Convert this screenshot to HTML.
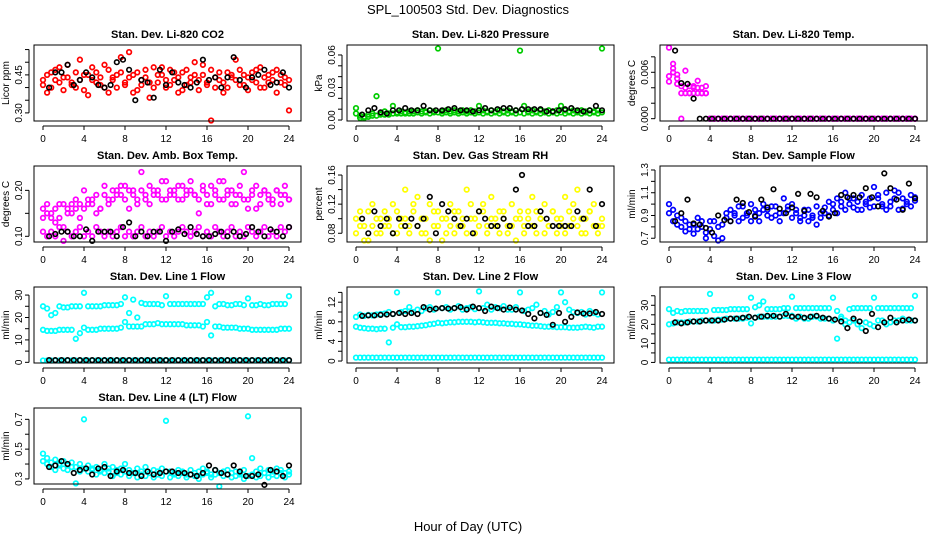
<!DOCTYPE html>
<html><head><meta charset="utf-8">
<style>
html,body{margin:0;padding:0;background:#fff;}
svg{display:block;font-family:"Liberation Sans",Arial,sans-serif;}
</style></head>
<body>
<svg id="chart" width="936" height="540" viewBox="0 0 936 540" xmlns="http://www.w3.org/2000/svg">
<text x="468" y="14" text-anchor="middle" font-size="13">SPL_100503  Std. Dev. Diagnostics</text>
<text x="468" y="531" text-anchor="middle" font-size="13">Hour of Day (UTC)</text>
</svg>
<script>
const tColor=[0,0.4,0.8,1.2,1.6,2.0,2.4,2.8,3.2,3.6,4.0,4.4,4.8,5.2,5.6,6.0,6.4,6.8,7.2,7.6,8.0,8.4,8.8,9.2,9.6,10.0,10.4,10.8,11.2,11.6,12.0,12.4,12.8,13.2,13.6,14.0,14.4,14.8,15.2,15.6,16.0,16.4,16.8,17.2,17.6,18.0,18.4,18.8,19.2,19.6,20.0,20.4,20.8,21.2,21.6,22.0,22.4,22.8,23.2,23.6,24.0];
const tBlack=[0.6,1.2,1.8,2.4,3.0,3.6,4.2,4.8,5.4,6.0,6.6,7.2,7.8,8.4,9.0,9.6,10.2,10.8,11.4,12.0,12.6,13.2,13.8,14.4,15.0,15.6,16.2,16.8,17.4,18.0,18.6,19.2,19.8,20.4,21.0,21.6,22.2,22.8,23.4,24.0];
const xTicks=[0,4,8,12,16,20,24];

const co2A=[0.43,0.45,0.40,0.47,0.42,0.44,0.49,0.41,0.46,0.43,0.39,0.45,0.48,0.42,0.44,0.40,0.47,0.43,0.45,0.52,0.41,0.44,0.38,0.46,0.43,0.47,0.42,0.40,0.45,0.48,0.43,0.41,0.46,0.44,0.39,0.47,0.42,0.45,0.43,0.49,0.41,0.27,0.44,0.46,0.42,0.40,0.45,0.43,0.47,0.41,0.44,0.46,0.42,0.48,0.40,0.45,0.43,0.47,0.42,0.44,0.31];
const co2B=[0.41,0.38,0.46,0.43,0.48,0.39,0.44,0.42,0.40,0.51,0.45,0.37,0.43,0.46,0.41,0.49,0.38,0.44,0.40,0.46,0.42,0.54,0.45,0.39,0.41,0.44,0.36,0.48,0.42,0.45,0.40,0.47,0.43,0.38,0.46,0.41,0.44,0.50,0.39,0.45,0.42,0.47,0.40,0.43,0.38,0.46,0.44,0.51,0.41,0.45,0.39,0.43,0.47,0.40,0.44,0.42,0.46,0.38,0.45,0.41,0.43];
const co2K=[0.40,0.46,0.46,0.49,0.41,0.43,0.46,0.44,0.41,0.40,0.41,0.50,0.51,0.47,0.35,0.43,0.42,0.36,0.47,0.41,0.46,0.42,0.41,0.40,0.42,0.51,0.43,0.44,0.40,0.44,0.52,0.43,0.40,0.44,0.45,0.47,0.41,0.42,0.46,0.40];

const presA=[0.011,0.004,0.003,0.005,0.006,0.022,0.006,0.008,0.006,0.013,0.007,0.008,0.007,0.008,0.008,0.009,0.008,0.008,0.009,0.008,0.066,0.008,0.009,0.008,0.009,0.008,0.009,0.008,0.009,0.008,0.013,0.009,0.008,0.009,0.008,0.009,0.008,0.009,0.008,0.009,0.064,0.013,0.008,0.009,0.008,0.009,0.008,0.009,0.008,0.009,0.013,0.009,0.008,0.009,0.008,0.009,0.008,0.009,0.008,0.009,0.066];
const presB=[0.006,0.002,0.002,0.003,0.004,0.004,0.005,0.005,0.005,0.006,0.006,0.006,0.006,0.006,0.006,0.007,0.006,0.007,0.006,0.007,0.007,0.006,0.007,0.006,0.007,0.006,0.007,0.006,0.007,0.006,0.007,0.006,0.007,0.006,0.007,0.006,0.007,0.006,0.007,0.006,0.007,0.006,0.007,0.006,0.007,0.006,0.007,0.006,0.007,0.006,0.007,0.006,0.007,0.006,0.007,0.006,0.007,0.006,0.007,0.006,0.007];
const presK=[0.005,0.009,0.011,0.007,0.006,0.009,0.009,0.011,0.009,0.009,0.013,0.009,0.009,0.009,0.010,0.011,0.009,0.009,0.008,0.009,0.011,0.009,0.010,0.011,0.011,0.009,0.010,0.010,0.010,0.010,0.008,0.008,0.009,0.010,0.011,0.009,0.008,0.009,0.013,0.009];

const tempA=[0.0092,0.0065,0.0052,0.0042,0.0062,0.0033,0.0042,0.0049,0.0033,0.0042,0,0,0,0,0,0,0,0,0,0,0,0,0,0,0,0,0,0,0,0,0,0,0,0,0,0,0,0,0,0,0,0,0,0,0,0,0,0,0,0,0,0,0,0,0,0,0,0,0,0,0];
const tempB=[0.0048,0.0071,0.0057,0,0.0040,0.0042,0.0033,0.0040,0.0033,0.0033,0,0,0,0,0,0,0,0,0,0,0,0,0,0,0,0,0,0,0,0,0,0,0,0,0,0,0,0,0,0,0,0,0,0,0,0,0,0,0,0,0,0,0,0,0,0,0,0,0,0,0];
const tempC=[0.0055,0.0060,0.0045,0.0033,0.0033,0.0033,0.0040,0.0033,0.0040,0.0033,0,0,0,0,0,0,0,0,0,0,0,0,0,0,0,0,0,0,0,0,0,0,0,0,0,0,0,0,0,0,0,0,0,0,0,0,0,0,0,0,0,0,0,0,0,0,0,0,0,0,0];
const tempK=[0.0088,0.0046,0.0045,0.0026,0,0,0,0,0,0,0,0,0,0,0,0,0,0,0,0,0,0,0,0,0,0,0,0,0,0,0,0,0,0,0,0,0,0,0,0];

const ambA=[0.16,0.15,0.14,0.13,0.17,0.12,0.15,0.17,0.16,0.14,0.20,0.17,0.18,0.15,0.16,0.19,0.18,0.20,0.19,0.21,0.18,0.20,0.19,0.17,0.20,0.18,0.21,0.19,0.20,0.18,0.22,0.19,0.20,0.18,0.21,0.19,0.20,0.19,0.15,0.20,0.17,0.21,0.19,0.18,0.22,0.20,0.17,0.19,0.21,0.24,0.18,0.20,0.16,0.19,0.20,0.18,0.17,0.20,0.19,0.21,0.18];
const ambB=[0.14,0.17,0.15,0.16,0.14,0.17,0.16,0.15,0.18,0.17,0.16,0.18,0.17,0.19,0.16,0.21,0.17,0.18,0.20,0.19,0.21,0.16,0.20,0.18,0.24,0.19,0.17,0.20,0.19,0.22,0.18,0.20,0.19,0.21,0.18,0.20,0.22,0.19,0.18,0.21,0.19,0.17,0.20,0.22,0.18,0.19,0.20,0.17,0.19,0.18,0.16,0.19,0.21,0.17,0.20,0.19,0.18,0.20,0.17,0.19,0.18];
const ambC=[0.11,0.10,0.11,0.10,0.12,0.09,0.11,0.10,0.11,0.12,0.10,0.11,0.10,0.12,0.11,0.10,0.11,0.10,0.11,0.12,0.10,0.11,0.10,0.11,0.12,0.10,0.11,0.10,0.11,0.12,0.10,0.11,0.10,0.11,0.12,0.11,0.10,0.11,0.12,0.10,0.11,0.10,0.12,0.11,0.10,0.11,0.12,0.10,0.11,0.10,0.12,0.11,0.10,0.11,0.12,0.10,0.11,0.10,0.12,0.11,0.12];
const ambK=[0.10,0.105,0.11,0.11,0.10,0.10,0.115,0.09,0.11,0.11,0.11,0.10,0.12,0.13,0.10,0.11,0.10,0.11,0.11,0.09,0.11,0.115,0.105,0.12,0.105,0.10,0.10,0.105,0.11,0.10,0.11,0.10,0.105,0.12,0.11,0.10,0.115,0.11,0.10,0.12];

const rhA=[0.10,0.09,0.07,0.11,0.12,0.08,0.10,0.11,0.09,0.12,0.08,0.10,0.14,0.09,0.11,0.13,0.08,0.10,0.12,0.09,0.11,0.07,0.10,0.12,0.08,0.11,0.09,0.14,0.10,0.08,0.11,0.12,0.09,0.13,0.10,0.08,0.11,0.09,0.12,0.07,0.10,0.09,0.11,0.13,0.08,0.10,0.12,0.09,0.11,0.08,0.10,0.13,0.09,0.12,0.14,0.10,0.08,0.11,0.12,0.09,0.10];
const rhB=[0.08,0.11,0.09,0.07,0.09,0.10,0.08,0.09,0.10,0.08,0.11,0.09,0.10,0.08,0.12,0.09,0.10,0.08,0.07,0.11,0.09,0.10,0.08,0.09,0.11,0.09,0.10,0.08,0.12,0.10,0.09,0.11,0.08,0.10,0.09,0.11,0.10,0.08,0.09,0.10,0.11,0.08,0.10,0.09,0.11,0.10,0.08,0.09,0.11,0.10,0.09,0.08,0.11,0.10,0.09,0.08,0.10,0.11,0.09,0.08,0.09];
const rhK=[0.10,0.08,0.11,0.09,0.10,0.08,0.10,0.09,0.10,0.09,0.10,0.13,0.08,0.12,0.11,0.10,0.09,0.10,0.08,0.11,0.10,0.09,0.09,0.10,0.09,0.14,0.16,0.09,0.09,0.11,0.10,0.09,0.09,0.09,0.09,0.11,0.10,0.14,0.09,0.12];

const sfA=[1.00,0.95,0.90,0.80,0.85,0.78,0.82,0.88,0.80,0.75,0.85,0.72,0.80,0.70,0.88,0.95,0.92,0.85,0.98,0.90,0.85,0.95,0.92,1.00,0.95,0.88,0.98,0.92,1.05,0.95,1.00,0.92,0.88,0.95,0.85,0.90,0.98,0.88,0.92,1.02,0.95,1.05,0.98,1.10,1.00,1.05,0.95,1.08,1.02,0.97,1.15,1.05,0.98,1.10,1.02,1.12,0.95,1.05,1.00,1.08,1.03];
const sfB=[0.92,0.85,0.82,0.88,0.76,0.82,0.74,0.78,0.85,0.70,0.78,0.85,0.68,0.82,0.92,0.85,0.90,0.98,0.88,0.92,1.00,0.90,0.85,0.95,0.90,0.98,0.90,0.85,0.92,0.98,0.88,0.95,0.85,0.90,0.95,0.88,0.82,0.92,0.97,0.90,1.00,0.92,1.02,0.95,1.05,0.97,1.02,0.95,1.00,1.05,0.98,1.08,1.00,0.95,0.98,1.05,1.10,0.96,1.02,0.98,1.06];
const sfK=[0.85,0.92,1.04,0.83,0.82,0.79,0.75,0.90,0.86,0.85,1.04,1.01,0.93,0.89,1.04,0.97,1.13,0.96,0.92,0.97,1.09,0.94,1.09,1.06,0.94,0.89,0.92,1.08,1.06,1.08,1.06,1.14,1.06,0.98,1.27,1.14,1.04,0.95,1.18,1.05];

const l1A=[25,24,21,22,25,24.5,24.5,25,25,25,31,25,25,25,25,25.5,25.5,25.5,25.5,26,29,22,28,20,26.5,26,26,26,26,25.5,29.5,26,26,26,26,26,26,26,26,26,29,31,25,26,26,25.5,25.5,26,26,25.5,28.5,25.5,25.5,26,25.5,25.5,26,26,26,26,29.5];
const l1B=[14.5,14,14,14,14.5,14.5,14.5,14.5,10.5,13,15.5,14.5,14.5,14.5,15,15,15,15,15,15.5,18,16,16,16,16,17,17,17,17.5,17,17,17,17,17,17,16.5,16.5,16.5,16.5,16,18,12,16,16,15.5,15.5,15.5,15.5,15,15,15,14.5,14.5,14.5,14.5,14.5,14.5,14.5,15,15,15];
const l1C=[0.8,0.8,0.8,0.8,0.8,0.8,0.8,0.8,0.8,0.8,0.8,0.8,0.8,0.8,0.8,0.8,0.8,0.8,0.8,0.8,0.8,0.8,0.8,0.8,0.8,0.8,0.8,0.8,0.8,0.8,0.8,0.8,0.8,0.8,0.8,0.8,0.8,0.8,0.8,0.8,0.8,0.8,0.8,0.8,0.8,0.8,0.8,0.8,0.8,0.8,0.8,0.8,0.8,0.8,0.8,0.8,0.8,0.8,0.8,0.8,0.8];
const l1K=[1,1,1,1,1,1,1,1,1,1,1,1,1,1,1,1,1,1,1,1,1,1,1,1,1,1,1,1,1,1,1,1,1,1,1,1,1,1,1,1];

const l2A=[9,9.5,9.2,9.4,9.3,9.5,9.6,9.7,10,9.6,14,10,10.2,11,10,10.5,10.2,10.8,11,10.5,14,10.8,11,10.5,10.8,11.2,10.5,10.8,11,10.6,14.2,10.8,11.5,10.5,11,10.8,11.2,10.5,10.5,11,14,10.2,10.5,10.8,11.5,9.8,10.2,9.5,10,11,14,12,10.5,10,9.8,10,9.5,10.2,9.8,9.5,14];
const l2B=[7,6.8,6.7,6.6,6.6,6.5,6.6,6.6,3.8,6.8,7.5,6.9,6.9,7,7,7.1,7.2,7.3,7.5,7.6,7.8,7.7,7.8,7.9,7.9,8,8,8,8,7.9,8,7.9,7.8,7.8,7.8,7.7,7.7,7.6,7.6,7.5,7.5,7.4,7.3,7.2,7.2,7.1,7,7,7,6.9,6.9,6.9,6.8,6.8,6.8,6.9,7,6.9,6.8,7,7];
const l2C=[0.7,0.7,0.7,0.7,0.7,0.7,0.7,0.7,0.7,0.7,0.7,0.7,0.7,0.7,0.7,0.7,0.7,0.7,0.7,0.7,0.7,0.7,0.7,0.7,0.7,0.7,0.7,0.7,0.7,0.7,0.7,0.7,0.7,0.7,0.7,0.7,0.7,0.7,0.7,0.7,0.7,0.7,0.7,0.7,0.7,0.7,0.7,0.7,0.7,0.7,0.7,0.7,0.7,0.7,0.7,0.7,0.7,0.7,0.7,0.7,0.7];
const l2K=[9.2,9.3,9.3,9.4,9.5,9.6,9.8,9.6,9.8,9.6,11,10.5,10.7,10.8,10.7,10.8,11,10.5,11.1,10.8,10.2,11.1,10.8,10.5,10.9,10.5,10.3,9.6,8.7,9.8,9.4,7.4,9.8,8.0,9.0,9.9,9.7,9.7,10,9.6];

const l3A=[28,26,27,26.5,27,27,27,27,27,27,36,27.5,27.5,27.5,27.5,28,28,28,28,28,34,29,30,32,28,28,28,28,28.5,28.5,34.5,28.5,28.5,28.5,28.5,28.5,28.5,28.5,28.5,28.5,34,27,24,20,28,28.5,28.5,28.5,28.5,28.5,34,28.5,28.5,28.5,28.5,28.5,28.5,28.5,28.5,28.5,35];
const l3B=[20,20.5,21,21,21,21.5,21.5,21.5,22,22,22,22,22.5,22.5,23,23,23,23,23,23.5,20.5,23.5,24,24,24,24,24,24,24.5,24.5,24.5,23,24,23,23,24,24,23,23,23,22,12.5,23,22,21,22,20,18,21,20,19,22,22,20,21,22,22,23,22,22,22];
const l3C=[1.5,1.5,1.5,1.5,1.5,1.5,1.5,1.5,1.5,1.5,1.5,1.5,1.5,1.5,1.5,1.5,1.5,1.5,1.5,1.5,1.5,1.5,1.5,1.5,1.5,1.5,1.5,1.5,1.5,1.5,1.5,1.5,1.5,1.5,1.5,1.5,1.5,1.5,1.5,1.5,1.5,1.5,1.5,1.5,1.5,1.5,1.5,1.5,1.5,1.5,1.5,1.5,1.5,1.5,1.5,1.5,1.5,1.5,1.5,1.5,1.5];
const l3K=[21,20.5,21,21.5,21.5,22,22,22,22.5,23,23,23.5,24,23.5,24,24.5,24.5,24,25.5,24,24,23.5,24,24.5,23.5,23,22.5,21.5,18,23,21.5,16.5,25.5,18.5,21,23.5,21,22,22.5,22];

const l4A=[0.47,0.44,0.41,0.43,0.40,0.42,0.39,0.41,0.38,0.40,0.70,0.39,0.37,0.38,0.36,0.40,0.37,0.38,0.36,0.37,0.40,0.36,0.34,0.37,0.35,0.38,0.34,0.36,0.35,0.37,0.69,0.35,0.34,0.36,0.35,0.33,0.36,0.34,0.35,0.37,0.35,0.33,0.36,0.34,0.35,0.36,0.34,0.35,0.33,0.36,0.72,0.44,0.35,0.37,0.34,0.36,0.35,0.37,0.36,0.34,0.35];
const l4B=[0.42,0.40,0.38,0.36,0.39,0.37,0.36,0.38,0.27,0.35,0.37,0.35,0.36,0.33,0.35,0.34,0.35,0.32,0.34,0.33,0.35,0.32,0.34,0.31,0.33,0.32,0.34,0.31,0.33,0.32,0.35,0.31,0.33,0.32,0.34,0.31,0.33,0.32,0.30,0.33,0.34,0.31,0.33,0.25,0.32,0.33,0.31,0.32,0.34,0.30,0.32,0.33,0.31,0.32,0.34,0.31,0.33,0.32,0.34,0.31,0.33];
const l4K=[0.38,0.39,0.42,0.40,0.34,0.36,0.37,0.33,0.37,0.38,0.32,0.35,0.36,0.34,0.34,0.32,0.35,0.33,0.34,0.35,0.35,0.34,0.34,0.33,0.32,0.34,0.39,0.36,0.34,0.33,0.39,0.35,0.32,0.32,0.33,0.26,0.36,0.35,0.32,0.39];

const panels=[
 {id:'co2',title:'Stan. Dev. Li-820 CO2',ylab:'Licor ppm',col:0,row:0,ylim:[0.268,0.568],ticks:[0.30,0.35,0.40,0.45,0.50,0.55],labels:[0.30,0.45],dec:2,color:'#ff0000',series:[co2A,co2B],black:co2K},
 {id:'pressure',title:'Stan. Dev. Li-820 Pressure',ylab:'kPa',col:1,row:0,ylim:[-0.0009,0.0692],ticks:[0,0.01,0.02,0.03,0.04,0.05,0.06],labels:[0,0.03,0.06],dec:2,color:'#00cc00',series:[presB,presA],black:presK},
 {id:'temp',title:'Stan. Dev. Li-820 Temp.',ylab:'degrees C',col:2,row:0,ylim:[-0.0003,0.00953],ticks:[0,0.002,0.004,0.006,0.008],labels:[0,0.006],dec:3,color:'#ff00ff',series:[tempA,tempB,tempC],black:tempK},
 {id:'ambbox',title:'Stan. Dev. Amb. Box Temp.',ylab:'degrees C',col:0,row:1,ylim:[0.0876,0.253],ticks:[0.10,0.15,0.20],labels:[0.10,0.20],dec:2,color:'#ff00ff',series:[ambA,ambB,ambC],black:ambK},
 {id:'rh',title:'Stan. Dev. Gas Stream RH',ylab:'percent',col:1,row:1,ylim:[0.068,0.1724],ticks:[0.08,0.10,0.12,0.14,0.16],labels:[0.08,0.12,0.16],dec:2,color:'#ffff00',series:[rhA,rhB],black:rhK},
 {id:'sampleflow',title:'Stan. Dev. Sample Flow',ylab:'ml/min',col:2,row:1,ylim:[0.667,1.335],ticks:[0.7,0.8,0.9,1.0,1.1,1.2,1.3],labels:[0.7,0.9,1.1,1.3],dec:1,color:'#0000ff',series:[sfA,sfB],black:sfK},
 {id:'line1',title:'Stan. Dev. Line 1 Flow',ylab:'ml/min',col:0,row:2,ylim:[-0.3,33.6],ticks:[0,5,10,15,20,25,30],labels:[0,10,20,30],dec:0,color:'#00ffff',series:[l1A,l1B,l1C],black:l1K},
 {id:'line2',title:'Stan. Dev. Line 2 Flow',ylab:'ml/min',col:1,row:2,ylim:[-0.4,15.1],ticks:[0,2,4,6,8,10,12,14],labels:[0,4,8,12],dec:0,color:'#00ffff',series:[l2A,l2B,l2C],black:l2K},
 {id:'line3',title:'Stan. Dev. Line 3 Flow',ylab:'ml/min',col:2,row:2,ylim:[-0.3,39.6],ticks:[0,5,10,15,20,25,30,35],labels:[0,10,20,30],dec:0,color:'#00ffff',series:[l3A,l3B,l3C],black:l3K},
 {id:'line4',title:'Stan. Dev. Line 4 (LT) Flow',ylab:'ml/min',col:0,row:3,ylim:[0.266,0.776],ticks:[0.3,0.4,0.5,0.6,0.7],labels:[0.3,0.5,0.7],dec:1,color:'#00ffff',series:[l4A,l4B],black:l4K}
];

const NS='http://www.w3.org/2000/svg';
const svg=document.getElementById('chart');
function mk(tag,attrs,parent){const e=document.createElementNS(NS,tag);for(const k in attrs)e.setAttribute(k,attrs[k]);parent.appendChild(e);return e;}

panels.forEach(p=>{
  const L=34+p.col*313,R=301+p.col*313,T=45+p.row*121,B=121+p.row*121;
  const xs=v=>43+p.col*313+v*(246/24);
  const ys=v=>B-(v-p.ylim[0])/(p.ylim[1]-p.ylim[0])*(B-T);
  const g=mk('g',{},svg);
  
  
  const title=mk('text',{x:(L+R)/2,y:T-7,'text-anchor':'middle','font-size':'11','font-weight':'bold'},g);
  
  
  title.textContent=p.title;
  const yl=mk('text',{x:0,y:0,'text-anchor':'middle','font-size':'10',transform:'translate('+(L-25)+','+((T+B)/2)+') rotate(-90)'},g);
  
  
  yl.textContent=p.ylab;
  const pts=mk('g',{fill:'none','stroke-width':'1.7'},g);
  
  
  p.series.forEach(arr=>{
    arr.forEach((v,i)=>{
      const c=mk('circle',{cx:xs(tColor[i]).toFixed(1),cy:ys(v).toFixed(1),r:'2.3',stroke:p.color},pts);
      
      
    });
  });
  const bk=mk('g',{fill:'none','stroke-width':'1.6'},g);
  
  
  p.black.forEach((v,i)=>{
    const c=mk('circle',{cx:xs(tBlack[i]).toFixed(1),cy:ys(v).toFixed(1),r:'2.3',stroke:'#000'},bk);
    
    
  });
  const box=mk('rect',{x:L,y:T,width:R-L,height:B-T,fill:'none',stroke:'#000','stroke-width':'1'},g);
  
  
  const xa=mk('g',{stroke:'#000','stroke-width':'1'},g);
  
  
  mk('line',{x1:xs(0),x2:xs(24),y1:B+5,y2:B+5},xa);
  xTicks.forEach(t=>{
    mk('line',{x1:xs(t),x2:xs(t),y1:B+5,y2:B+9},xa);
    const tx=mk('text',{x:xs(t),y:B+21,'text-anchor':'middle','font-size':'10',stroke:'none',fill:'#000'},xa);
    
    
    tx.textContent=t;
  });
  const ya=mk('g',{stroke:'#000','stroke-width':'1'},g);
  
  
  mk('line',{x1:L-5,x2:L-5,y1:ys(p.ticks[0]),y2:ys(p.ticks[p.ticks.length-1])},ya);
  p.ticks.forEach(t=>{mk('line',{x1:L-9,x2:L-5,y1:ys(t),y2:ys(t)},ya);});
  p.labels.forEach(t=>{
    const tx=mk('text',{x:0,y:0,'text-anchor':'middle','font-size':'10',stroke:'none',fill:'#000',transform:'translate('+(L-12)+','+ys(t)+') rotate(-90)'},ya);
    
    
    tx.textContent=t.toFixed(p.dec);
  });
});
</script>
</body></html>
